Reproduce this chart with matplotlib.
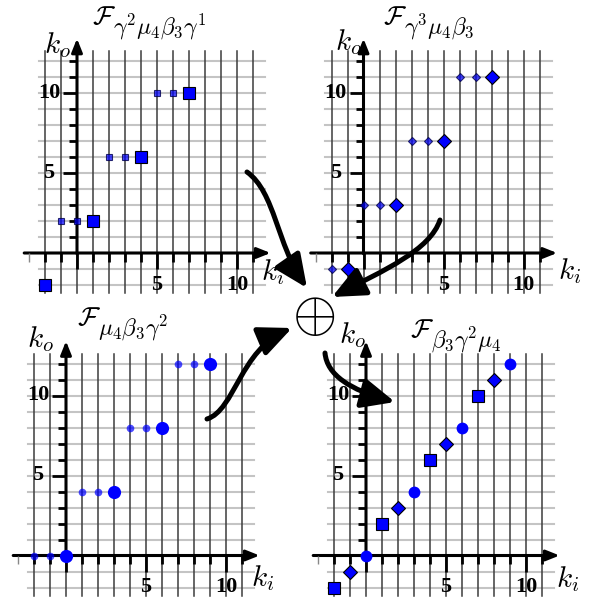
import numpy as np
import matplotlib.pyplot as plt
from matplotlib.patches import FancyArrowPatch
from matplotlib.path import Path

plt.rcParams['mathtext.fontset'] = 'cm'

W, H = 590, 601
U = 16  # pixels per unit on every panel

# squares (top left)
sq_small_x = [-1, 0, 2, 3, 5, 6]
sq_small_y = [2, 2, 6, 6, 10, 10]
sq_big_x = [-2, 1, 4, 7]
sq_big_y = [-2, 2, 6, 10]

# diamonds (top right)
dm_small_x = [-2, 0, 1, 3, 4, 6, 7]
dm_small_y = [-1, 3, 3, 7, 7, 11, 11]
dm_big_x = [-1, 2, 5, 8]
dm_big_y = [-1, 3, 7, 11]

# circles (bottom left)
ci_small_x = [-2, -1, 1, 2, 4, 5, 7, 8]
ci_small_y = [0, 0, 4, 4, 8, 8, 12, 12]
ci_big_x = [0, 3, 6, 9]
ci_big_y = [0, 4, 8, 12]

title_main = r'$\mathcal{F}$'
title_subs = [r'$\gamma^2\mu_4\beta_3\gamma^1$',
              r'$\gamma^3\mu_4\beta_3$',
              r'$\mu_4\beta_3\gamma^2$',
              r'$\beta_3\gamma^2\mu_4$']
tick_labels = [5, 10]

# layout (pixel origin of each panel, label spots in panel units)
origins = [(77, 253), (363.5, 253), (66, 555.5), (366, 555.5)]
title_xy = [(0.94, 14.3), (1.22, 14.3), (0.69, 14.4), (2.75, 13.65)]
ko_xy = [(-1.25, 12.5), (-0.97, 12.7), (-1.6, 13.0), (-0.87, 13.3)]
ki_xy = [(12.25, -1.7), (12.9, -1.6), (12.3, -1.9), (12.6, -1.95)]

BLUE = '#0000ff'
SMALL = (0.0, 0.0, 1.0, 0.7)


def make_axes(fig, ox, oy):
    x0, x1, y0, y1 = -4.5, 13.5, -4.0, 16.0
    ax = fig.add_axes([(ox + x0 * U) / W, 1 - (oy - y0 * U) / H,
                       (x1 - x0) * U / W, (y1 - y0) * U / H])
    ax.set_xlim(x0, x1)
    ax.set_ylim(y0, y1)
    ax.axis('off')
    return ax


def draw_frame(ax, i):
    for x in range(-2, 12):
        ax.plot([x, x], [-2.5, 12.6], color='#3c3c3c', lw=1.1, zorder=1)
    for y in range(-2, 13):
        ax.plot([-2.4, 11.75], [y, y], color='#c4c4c4', lw=1.5, zorder=0)
    arrow = dict(arrowstyle='-|>,head_length=0.8,head_width=0.32',
                 lw=2.2, color='k', shrinkA=0, shrinkB=0, mutation_scale=10)
    ax.annotate('', xy=(12.1, 0), xytext=(-3.3, 0), arrowprops=arrow, zorder=3)
    ax.annotate('', xy=(0, 13.4), xytext=(0, -0.05), arrowprops=arrow, zorder=3)
    for x in range(-3, 12):
        L = 1.0 if x in (0, 5, 10) else 0.55
        c = '#888888' if x == -3 else 'k'
        ax.plot([x, x], [0, -L], color=c, lw=2.0 if x > -3 else 1.0,
                solid_capstyle='butt', zorder=3)
    for y in range(1, 13):
        L = 0.85 if y in (5, 10) else 0.5
        ax.plot([-L, 0], [y, y], color='k', lw=2.0, solid_capstyle='butt', zorder=3)
    for v in tick_labels:
        ax.text(v, -2.0, str(v), ha='center', va='center', fontsize=16,
                family='Liberation Serif', weight='bold')
        ax.text(-1.75, v, str(v), ha='center', va='center', fontsize=16,
                family='Liberation Serif', weight='bold')
    tx, ty = title_xy[i]
    ax.text(tx, ty, title_main, ha='left', va='baseline', fontsize=19)
    ax.text(tx + 1.3, ty - 0.66, title_subs[i], ha='left', va='baseline', fontsize=17)
    ax.text(*ko_xy[i], r'$k_o$', ha='center', va='baseline', fontsize=21)
    ax.text(*ki_xy[i], r'$k_i$', ha='center', va='baseline', fontsize=21)


fig = plt.figure(figsize=(W / 100, H / 100), dpi=100)
axs = [make_axes(fig, *o) for o in origins]
for i, ax in enumerate(axs):
    draw_frame(ax, i)

kw = dict(ls='none', zorder=5, clip_on=False)
# top left: squares
axs[0].plot(sq_small_x, sq_small_y, marker='s', ms=5, mfc=SMALL, mec=(0, 0, 0.3, 0.8), mew=0.8, **kw)
axs[0].plot(sq_big_x, sq_big_y, marker='s', ms=9, mfc=BLUE, mec='k', mew=0.8, **kw)
# top right: diamonds
axs[1].plot(dm_small_x, dm_small_y, marker='D', ms=4.3, mfc=SMALL, mec=(0, 0, 0.3, 0.8), mew=0.8, **kw)
axs[1].plot(dm_big_x, dm_big_y, marker='D', ms=7.3, mfc=BLUE, mec='k', mew=0.8, **kw)
# bottom left: circles
axs[2].plot(ci_small_x, ci_small_y, marker='o', ms=5.5, mfc=SMALL, mec='none', **kw)
axs[2].plot(ci_big_x, ci_big_y, marker='o', ms=9.5, mfc=BLUE, mec='none', **kw)
# bottom right: the big markers together
axs[3].plot(sq_big_x, sq_big_y, marker='s', ms=8.5, mfc=BLUE, mec='k', mew=0.8, **kw)
axs[3].plot(dm_big_x, dm_big_y, marker='D', ms=6.8, mfc=BLUE, mec='k', mew=0.8, **kw)
axs[3].plot(ci_big_x, ci_big_y, marker='o', ms=8.5, mfc=BLUE, mec='none', **kw)

# overlay in pixel coordinates for the curved arrows and the oplus
ov = fig.add_axes([0, 0, 1, 1])
ov.set_xlim(0, W)
ov.set_ylim(H, 0)
ov.axis('off')
ov.patch.set_visible(False)

curves = [
    [(247, 172), (275, 192), (277, 245), (307, 288)],
    [(440, 220), (430, 250), (385, 270), (332, 297)],
    [(207, 419), (235, 410), (240, 350), (292, 328)],
    [(325, 353), (327, 375), (350, 390), (395, 402)],
]
codes = [Path.MOVETO, Path.CURVE4, Path.CURVE4, Path.CURVE4]
for pts in curves:
    ov.add_patch(FancyArrowPatch(path=Path(pts, codes),
                                 arrowstyle='-|>,head_length=1.0,head_width=0.45',
                                 mutation_scale=20, lw=3.6, color='k',
                                 shrinkA=0, shrinkB=0))
ov.text(314, 316, r'$\oplus$', ha='center', va='center', fontsize=41)

fig.savefig('out.png', dpi=100)
